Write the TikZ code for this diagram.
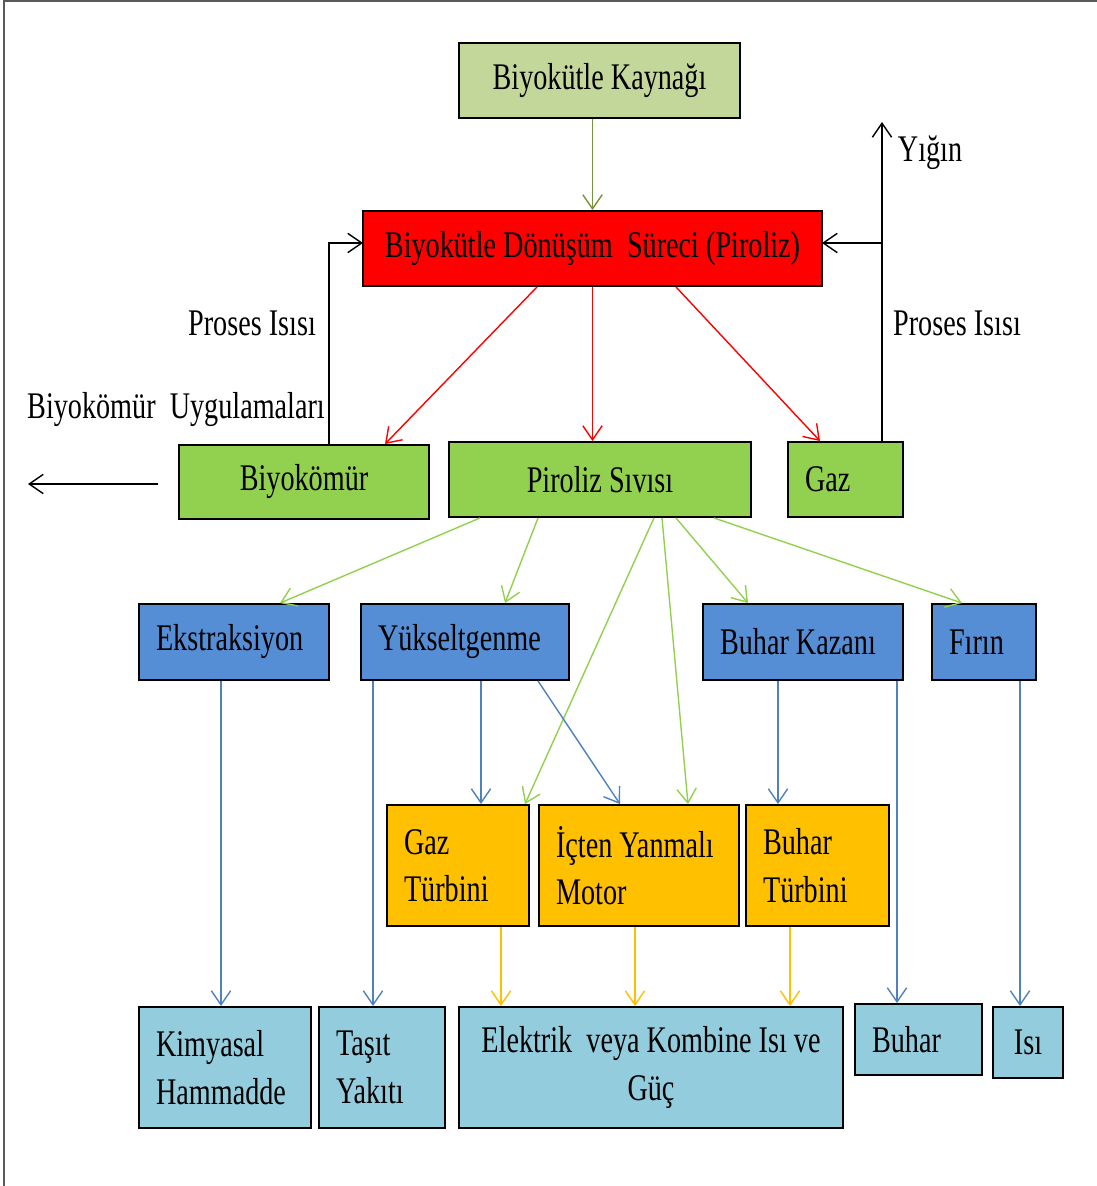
\documentclass[tikz,border=0pt]{standalone}
\usepackage{fontspec}
\setmainfont[FakeStretch=0.75]{Liberation Serif}
\usetikzlibrary{arrows.meta}

\definecolor{kaynakyesil}{HTML}{C4D79B}
\definecolor{kirmizi}{HTML}{FF0000}
\definecolor{yesil}{HTML}{92D050}
\definecolor{mavi}{HTML}{558ED5}
\definecolor{turuncu}{HTML}{FFC000}
\definecolor{acikmavi}{HTML}{93CDDD}
\definecolor{zeytin}{HTML}{77933C}
\definecolor{mavicizgi}{HTML}{4F81BD}

\begin{document}
\begin{tikzpicture}[x=0.02cm,y=-0.02cm,>={Straight Barb[length=8pt,width=11pt]},line width=0.8pt]
	\tikzstyle{every node}=[font=\fontsize{21.4}{27}\selectfont]
	\tikzstyle{kutu}=[draw=black,line width=1.1pt,minimum height=1.5cm]
	\tikzstyle{sol}=[align=flush left,inner xsep=0.34cm]

  \useasboundingbox (0,0) rectangle (1097,1186);
  \draw[black!65,line width=1.2pt] (4,1186) -- (4,1) -- (1097,1);

  % kutular
  \node[kutu,fill=kaynakyesil,minimum width=5.62cm] (kaynak) at (599.5,80.5) {Biyokütle Kaynağı};
  \node[kutu,fill=kirmizi,minimum width=9.18cm] (surec) at (592.5,248.5) {Biyokütle Dönüşüm\ \ Süreci (Piroliz)};

  \node[kutu,fill=yesil,minimum width=5cm,minimum height=1.48cm] (biyokomur) at (304,482) {Biyokömür};
  \node[kutu,fill=yesil,minimum width=6.04cm] (sivi) at (600,479.5) {Piroliz Sıvısı};
  \node[kutu,fill=yesil,sol,text width=1.62cm] (gaz) at (845.5,479.5) {Gaz};

  \node[kutu,fill=mavi,sol,text width=3.12cm,minimum height=1.52cm] (ekstraksiyon) at (234,642) {Ekstraksiyon};
  \node[kutu,fill=mavi,sol,text width=3.48cm,minimum height=1.52cm] (yukselt) at (465,642) {Yükseltgenme};
  \node[kutu,fill=mavi,sol,text width=3.32cm,minimum height=1.52cm] (kazan) at (803,642) {Buhar Kazanı};
  \node[kutu,fill=mavi,sol,text width=1.4cm,minimum height=1.52cm] (firin) at (984,642) {Fırın};

  \node[kutu,fill=turuncu,sol,text width=2.16cm,minimum height=2.42cm] (gturbin) at (458,865.5) {Gaz\\Türbini};
  \node[kutu,fill=turuncu,sol,text width=3.32cm,minimum height=2.42cm] (motor) at (639,865.5) {İçten Yanmalı\\Motor};
  \node[kutu,fill=turuncu,sol,text width=2.18cm,minimum height=2.42cm] (bturbin) at (817.5,865.5) {Buhar\\Türbini};

  \node[kutu,fill=acikmavi,sol,text width=2.76cm,minimum height=2.42cm] (kimyasal) at (225,1067.5) {Kimyasal\\Hammadde};
  \node[kutu,fill=acikmavi,sol,text width=1.84cm,minimum height=2.42cm] (tasit) at (382,1067.5) {Taşıt\\Yakıtı};
  \node[kutu,fill=acikmavi,align=center,minimum width=7.68cm,minimum height=2.42cm] (elektrik) at (651,1067.5) {Elektrik\ \ veya Kombine Isı ve\\Güç};
  \node[kutu,fill=acikmavi,sol,text width=1.86cm,minimum height=1.42cm] (buhar) at (918.5,1039.5) {Buhar};
  \node[kutu,fill=acikmavi,minimum width=1.4cm,minimum height=1.42cm] (isi) at (1028,1042.5) {Isı};

  % yazilar
  \node (proses1) at (252,323) {Proses Isısı};
  \node (proses2) at (957,323) {Proses Isısı};
  \node (uygulama) at (176,410) {Biyokömür\ \ Uygulamaları};
  \node (yiginyazi) at (930,153) {Yığın};
  \coordinate (yigin) at (882,122);
  \coordinate (uygbas) at (158,484);
  \coordinate (uyguc) at (28,484);

  % oklar
  \draw[->,zeytin] (surec.north |- kaynak.south) -- (surec.north);

  \draw[->,kirmizi] (537,0 |- surec.south) -- (385,0 |- biyokomur.north);
  \draw[->,kirmizi] (surec.south) -- (surec.south |- sivi.north);
  \draw[->,kirmizi] (676,0 |- surec.south) -- (820,0 |- gaz.north);

  \draw[->] (329,0 |- biyokomur.north) |- (363,243);
  \draw[->] (882,0 |- gaz.north) |- (822,243);
  \draw[->] (882,243) -- (yigin);
  \draw[->] (uygbas) -- (uyguc);

  \draw[->,yesil] (480,0 |- sivi.south) -- (280,0 |- ekstraksiyon.north);
  \draw[->,yesil] (538,0 |- sivi.south) -- (505,0 |- yukselt.north);
  \draw[->,yesil] (654,0 |- sivi.south) -- (525,0 |- gturbin.north);
  \draw[->,yesil] (662,0 |- sivi.south) -- (688,0 |- motor.north);
  \draw[->,yesil] (676,0 |- sivi.south) -- (748,0 |- kazan.north);
  \draw[->,yesil] (714,0 |- sivi.south) -- (962,0 |- firin.north);

  \draw[->,mavicizgi] (221,0 |- ekstraksiyon.south) -- (221,0 |- kimyasal.north);
  \draw[->,mavicizgi] (373,0 |- yukselt.south) -- (373,0 |- tasit.north);
  \draw[->,mavicizgi] (481,0 |- yukselt.south) -- (481,0 |- gturbin.north);
  \draw[->,mavicizgi] (538,0 |- yukselt.south) -- (620,0 |- motor.north);
  \draw[->,mavicizgi] (778,0 |- kazan.south) -- (778,0 |- bturbin.north);
  \draw[->,mavicizgi] (897,0 |- kazan.south) -- (897,0 |- buhar.north);
  \draw[->,mavicizgi] (1020,0 |- firin.south) -- (1020,0 |- isi.north);

  \draw[->,turuncu] (501,0 |- gturbin.south) -- (501,0 |- elektrik.north);
  \draw[->,turuncu] (635,0 |- motor.south) -- (635,0 |- elektrik.north);
  \draw[->,turuncu] (790,0 |- bturbin.south) -- (790,0 |- elektrik.north);

\end{tikzpicture}
\end{document}
